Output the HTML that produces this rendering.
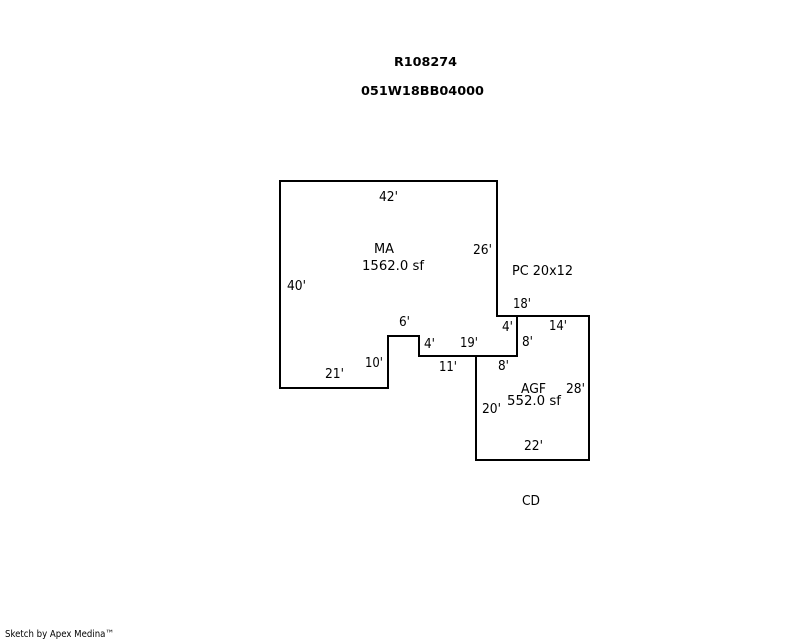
<!DOCTYPE html>
<html><head><meta charset="utf-8"><style>
html,body{margin:0;padding:0;background:#fff}
svg{display:block}
text{font-family:"DejaVu Sans","Liberation Sans",sans-serif;font-size:13px;fill:#000}
.b{font-weight:bold;font-size:12.5px}
.s{font-size:10px}
</style></head><body>
<svg width="800" height="640" viewBox="0 0 800 640" xmlns="http://www.w3.org/2000/svg">
<g fill="none" stroke="#000" stroke-width="2" shape-rendering="crispEdges">
<path d="M280 181H497V316H589V460H476V356H419V336H388V388H280Z"/>
<path d="M517 316V356H476"/>
</g>
<g lengthAdjust="spacingAndGlyphs">
<text class="b" x="394" y="66" textLength="63" lengthAdjust="spacingAndGlyphs">R108274</text>
<text class="b" x="361" y="95" textLength="123" lengthAdjust="spacingAndGlyphs">051W18BB04000</text>
<text x="379" y="201" textLength="19" lengthAdjust="spacingAndGlyphs">42'</text>
<text x="473" y="254" textLength="19" lengthAdjust="spacingAndGlyphs">26'</text>
<text x="374" y="253" textLength="20" lengthAdjust="spacingAndGlyphs">MA</text>
<text x="362" y="270" textLength="62" lengthAdjust="spacingAndGlyphs">1562.0 sf</text>
<text x="287" y="290" textLength="19" lengthAdjust="spacingAndGlyphs">40'</text>
<text x="512" y="275" textLength="61" lengthAdjust="spacingAndGlyphs">PC 20x12</text>
<text x="513" y="308" textLength="18" lengthAdjust="spacingAndGlyphs">18'</text>
<text x="399" y="326" textLength="11" lengthAdjust="spacingAndGlyphs">6'</text>
<text x="502" y="331" textLength="11" lengthAdjust="spacingAndGlyphs">4'</text>
<text x="549" y="330" textLength="18" lengthAdjust="spacingAndGlyphs">14'</text>
<text x="424" y="348" textLength="11" lengthAdjust="spacingAndGlyphs">4'</text>
<text x="460" y="347" textLength="18" lengthAdjust="spacingAndGlyphs">19'</text>
<text x="522" y="346" textLength="11" lengthAdjust="spacingAndGlyphs">8'</text>
<text x="365" y="367" textLength="18" lengthAdjust="spacingAndGlyphs">10'</text>
<text x="439" y="371" textLength="18" lengthAdjust="spacingAndGlyphs">11'</text>
<text x="498" y="370" textLength="11" lengthAdjust="spacingAndGlyphs">8'</text>
<text x="325" y="378" textLength="19" lengthAdjust="spacingAndGlyphs">21'</text>
<text x="521" y="393" textLength="25" lengthAdjust="spacingAndGlyphs">AGF</text>
<text x="566" y="393" textLength="19" lengthAdjust="spacingAndGlyphs">28'</text>
<text x="507" y="405" textLength="54" lengthAdjust="spacingAndGlyphs">552.0 sf</text>
<text x="482" y="413" textLength="19" lengthAdjust="spacingAndGlyphs">20'</text>
<text x="524" y="450" textLength="19" lengthAdjust="spacingAndGlyphs">22'</text>
<text x="522" y="505" textLength="18" lengthAdjust="spacingAndGlyphs">CD</text>
<text class="s" x="5" y="637" textLength="109" lengthAdjust="spacingAndGlyphs">Sketch by Apex Medina™</text>
</g>
</svg>
</body></html>
